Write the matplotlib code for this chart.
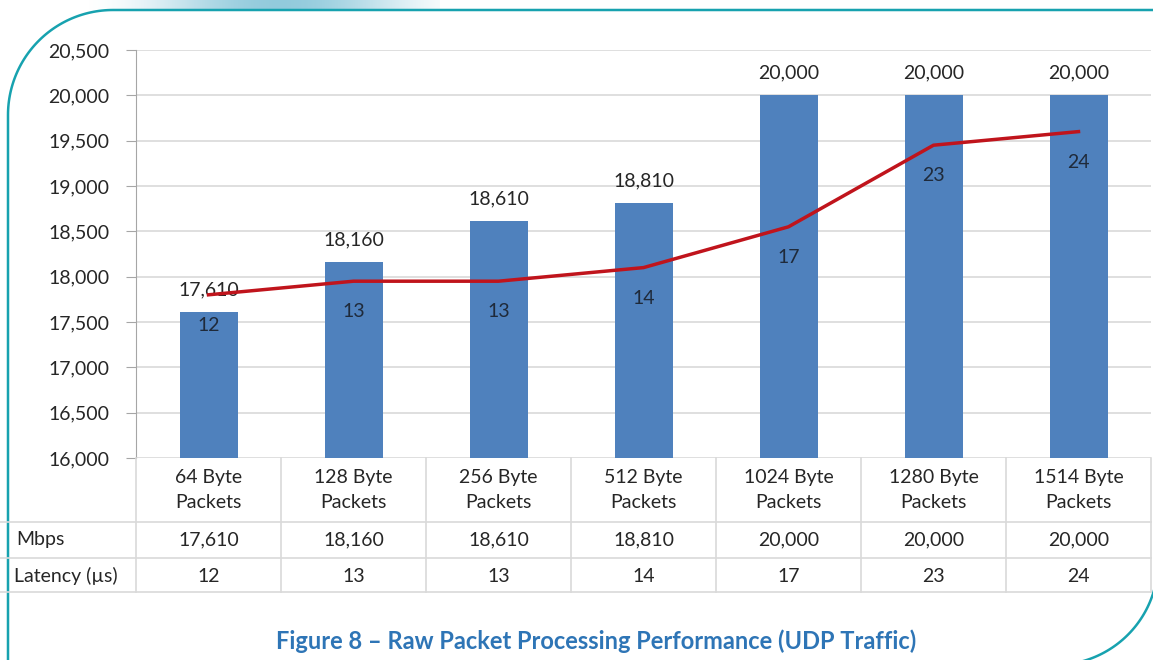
import numpy as np
import matplotlib
matplotlib.use("Agg")
import matplotlib.pyplot as plt

plt.rcParams["font.family"] = ["Lato", "DejaVu Sans"]

categories = ["64 Byte\nPackets", "128 Byte\nPackets", "256 Byte\nPackets", "512 Byte\nPackets",
              "1024 Byte\nPackets", "1280 Byte\nPackets", "1514 Byte\nPackets"]
mbps = [17610, 18160, 18610, 18810, 20000, 20000, 20000]
latency = [12, 13, 13, 14, 17, 23, 24]
row_labels = ["Mbps", "Latency (\u00b5s)"]
caption = "Figure 8 \u2013 Raw Packet Processing Performance (UDP Traffic)"

W, H = 1153, 660
fig = plt.figure(figsize=(W / 100, H / 100), dpi=100)

bar_color = "#4F81BD"
line_color = "#C0141C"
text_color = "#262626"
grid_color = "#D9D9D9"
teal = "#17A2AF"
fs = 14

# decoration layer (pixel coords)
deco = fig.add_axes([0, 0, 1, 1], zorder=-5)
deco.set_xlim(0, W)
deco.set_ylim(H, 0)
deco.axis("off")
grad = np.sin(np.linspace(0, np.pi * 0.9, 256)) ** 2 * 0.85
deco.imshow(np.dstack([np.full((1, 256), 0.5), np.full((1, 256), 0.76), np.full((1, 256), 0.84), grad[None, :]]),
            extent=[80, 440, 10, 0], aspect="auto", interpolation="bilinear")
t = np.linspace(np.pi, 1.5 * np.pi, 60)
cx, cy, r = 113, 115, 105
xs = np.concatenate([[8], cx + r * np.cos(t), [W + 5]])
ys = np.concatenate([[H + 5], cy + r * np.sin(t), [10]])
deco.plot(xs, ys, color=teal, lw=1.8, solid_capstyle="butt")
t2 = np.linspace(0, 0.5 * np.pi, 60)
deco.plot(1055 + 103 * np.cos(t2), 562 + 103 * np.sin(t2), color=teal, lw=1.8)

# main chart
ax = fig.add_axes([136 / W, 202 / H, 1015 / W, 408 / H])
x = np.arange(len(categories))
bars = ax.bar(x, mbps, width=0.4, color=bar_color, zorder=2)
ax.set_xlim(-0.5, len(categories) - 0.5)
ax.set_ylim(16000, 20500)
ax.set_yticks(np.arange(16000, 20501, 500))
ax.set_yticklabels([f"{v:,}" for v in np.arange(16000, 20501, 500)], fontsize=fs, color=text_color)
ax.tick_params(axis="y", length=7, color="#A6A6A6", pad=12)
ax.set_xticks([])
ax.yaxis.grid(True, color=grid_color, lw=1.2, zorder=0)
for s in ["top", "right", "bottom"]:
    ax.spines[s].set_visible(False)
ax.spines["left"].set_color("#A6A6A6")
for xi, v in zip(x, mbps):
    ax.annotate(f"{v:,}", (xi, v), xytext=(0, 16), textcoords="offset points",
                ha="center", va="center", fontsize=fs, color=text_color, zorder=5)

ax2 = ax.twinx()
ax2.set_ylim(0, 30)
ax2.axis("off")
ax2.plot(x, latency, color=line_color, lw=2.5, zorder=3)
for xi, v in zip(x, latency):
    ax2.annotate(str(v), (xi, v), xytext=(0, -22), textcoords="offset points",
                 ha="center", va="center", fontsize=fs, color="#1F2A3A")

# data table under the chart
tab = fig.add_axes([136 / W, 68 / H, 1015 / W, 134 / H])
tab.set_xlim(-0.5, len(categories) - 0.5)
tab.set_ylim(0, 134)
tab.axis("off")
lx = -0.5 - 136 / 145
for yy in [0, 34, 70]:
    tab.plot([lx, len(categories) - 0.5], [yy, yy], color=grid_color, lw=1.2, clip_on=False)
for i in range(len(categories) + 1):
    tab.plot([i - 0.5, i - 0.5], [0, 134], color=grid_color, lw=1.2, clip_on=False)
for xi, c, m, l in zip(x, categories, mbps, latency):
    tab.text(xi, 102, c, ha="center", va="center", fontsize=fs, color=text_color, linespacing=1.6)
    tab.text(xi, 52, f"{m:,}", ha="center", va="center", fontsize=fs, color=text_color)
    tab.text(xi, 16, str(l), ha="center", va="center", fontsize=fs, color=text_color)
tab.text(lx + 16 / 145, 52, row_labels[0], ha="left", va="center", fontsize=fs, color=text_color, clip_on=False)
tab.text(lx + 14 / 145, 16, row_labels[1], ha="left", va="center", fontsize=fs, color=text_color, clip_on=False)

fig.text(596 / W, 1 - 641 / H, caption, ha="center", va="center", fontsize=17,
         fontweight="bold", color="#2E75B6")

fig.savefig("out.png", dpi=100)
